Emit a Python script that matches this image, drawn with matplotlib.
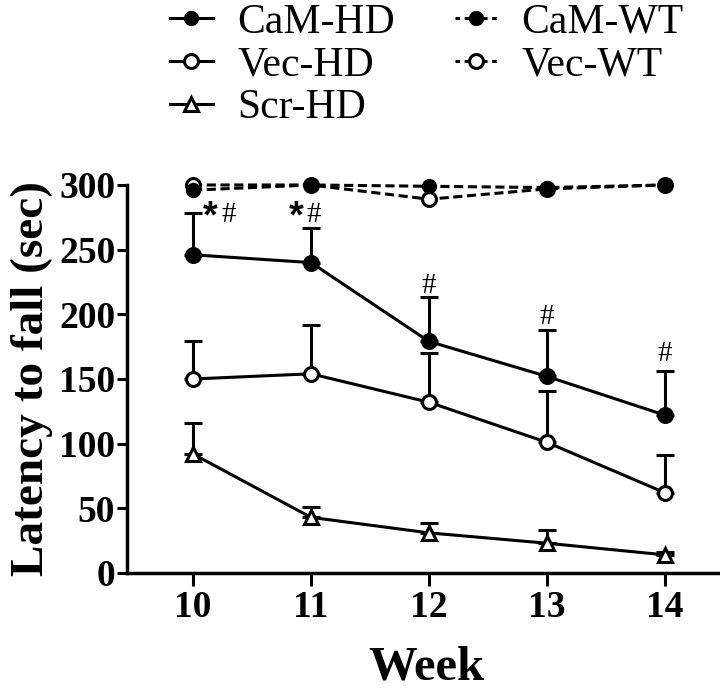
import matplotlib
matplotlib.use("Agg")
import matplotlib.pyplot as plt
from matplotlib.lines import Line2D

plt.rcParams['font.family'] = ['Liberation Serif', 'DejaVu Serif']

weeks = [10, 11, 12, 13, 14]
cam_hd = [246, 240, 179, 152, 122]
cam_hd_err = [32, 27, 34, 36, 34]
vec_hd = [150, 154, 132, 101, 62]
vec_hd_err = [29, 38, 38, 40, 29]
scr_hd = [92, 43, 31, 23, 14]
scr_hd_err = [24, 8, 8, 10, 2]
cam_wt = [296, 300, 299, 298, 300]
vec_wt = [300, 300, 289, 297, 300]
stars = ["*", "*", "", "", ""]
hashes = ["#", "#", "#", "#", "#"]
yticks = [0, 50, 100, 150, 200, 250, 300]
labels = ['CaM-HD', 'Vec-HD', 'Scr-HD', 'CaM-WT', 'Vec-WT']

fig = plt.figure(figsize=(7.2, 6.91), dpi=100)
ax = fig.add_axes([0.1764, 0.1708, 0.8236, 0.5615])

lw = 2.2
ms = 10
dash = (3, 1.5)

def series(y, err, marker, mfc):
    ax.errorbar(weeks, y, yerr=[[0] * len(err), err], fmt='none', ecolor='black',
                elinewidth=lw, capsize=6.5, capthick=lw, clip_on=False, zorder=2)
    ax.plot(weeks, y, color='black', lw=lw, ls='-', marker=marker, ms=ms,
            mfc=mfc, mec='black', mew=2.2, clip_on=False, zorder=3)

series(vec_hd, vec_hd_err, 'o', 'white')
series(cam_hd, cam_hd_err, 'o', 'black')
series(scr_hd, scr_hd_err, '^', 'white')
ax.plot(weeks, vec_wt, color='black', lw=lw, ls=(0, dash), marker='o', ms=ms,
        mfc='white', mec='black', mew=2.2, clip_on=False, zorder=3)
ax.plot(weeks, cam_wt, color='black', lw=lw, ls=(0, dash), marker='o', ms=ms,
        mfc='black', mec='black', clip_on=False, zorder=4)

# significance marks
tops = [c + e for c, e in zip(cam_hd, cam_hd_err)]
offs = [-3, 8, 9, 10, 13]
ax.text(weeks[0] + 0.08, tops[0] + offs[0], stars[0], fontsize=27, fontweight='bold',
        family='Liberation Sans', ha='left', va='center')
ax.text(weeks[0] + 0.24, tops[0] + offs[0] + 2, hashes[0], fontsize=21, ha='left', va='center')
ax.text(weeks[1] - 0.19, tops[1] + offs[1], stars[1], fontsize=27, fontweight='bold',
        family='Liberation Sans', ha='left', va='center')
ax.text(weeks[1] - 0.04, tops[1] + offs[1] + 2, hashes[1], fontsize=21, ha='left', va='center')
for i in range(2, 5):
    ax.text(weeks[i], tops[i] + offs[i], hashes[i], fontsize=21, ha='center', va='center')

ax.set_xlim(9.441, 14.466)
ax.set_ylim(0, 300)
ax.set_xticks(weeks)
ax.set_yticks(yticks)
ax.tick_params(axis='y', direction='out', length=7, width=2.2, labelsize=27, pad=1.5)
ax.tick_params(axis='x', direction='out', length=9, width=2.2, labelsize=27, pad=3.5)
for lab in ax.get_xticklabels() + ax.get_yticklabels():
    lab.set_fontweight('bold')
for s in ['top', 'right']:
    ax.spines[s].set_visible(False)
for s in ['left', 'bottom']:
    ax.spines[s].set_linewidth(2.5)

ax.set_ylabel('Latency to fall (sec)', fontsize=34, fontweight='bold', labelpad=4)
fig.text(0.592, 0.002, 'Week', fontsize=35, fontweight='bold', ha='center', va='bottom')

handles = [
    Line2D([], [], color='black', lw=lw, marker='o', ms=ms, mfc='black'),
    Line2D([], [], color='black', lw=lw, marker='o', ms=ms, mfc='white', mew=2.2),
    Line2D([], [], color='black', lw=lw, marker='^', ms=ms, mfc='white', mew=2.2),
    Line2D([], [], color='black', lw=lw, ls=(0, (1.5, 1.5)), marker='o', ms=ms, mfc='black'),
    Line2D([], [], color='black', lw=lw, ls=(0, (1.5, 1.5)), marker='o', ms=ms, mfc='white', mew=2.2),
]
fig.legend(handles, labels, ncol=2, loc='upper left', bbox_to_anchor=(0.236, 0.995),
           frameon=False, fontsize=30, handlelength=1.03, handletextpad=0.58,
           columnspacing=1.44, labelspacing=0.1, borderaxespad=0, borderpad=0)

fig.savefig('out.png', dpi=100)
